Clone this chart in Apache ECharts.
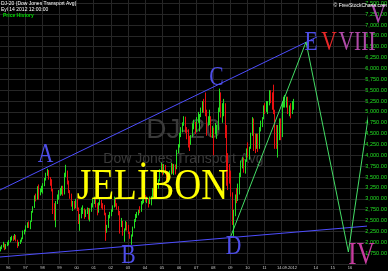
<!DOCTYPE html>
<html><head><meta charset="utf-8">
<script src="https://cdn.jsdelivr.net/npm/echarts@6/dist/echarts.min.js"></script>
<style>html,body{margin:0;padding:0;background:#000}#c{width:388px;height:271px}</style>
</head><body><div id="c"></div>
<script>
// ---- data (monthly, Jul 1995 .. Sep 2012) ----
const startYear = 1995, startMonth = 7;
const firstOpen = 1850;
const closes = [
1870,1900,1960,1850,1930,1980,
2010,2080,2110,2070,2150,2050,1930,1980,2040,2080,2250,2255,
2360,2420,2390,2480,2700,2800,3050,2990,3250,3120,3200,3256,
3300,3450,3560,3630,3470,3380,3200,2750,2630,2900,3050,3149,
3180,3210,3120,3560,3640,3380,3150,3080,2850,2890,2800,2977,
2780,2500,2600,2700,2760,2600,2680,2760,2600,2730,2860,2946,
2990,2870,2720,2890,2960,2850,2840,2650,2260,2350,2600,2640,
2720,2820,2980,2850,2790,2700,2450,2480,2180,2290,2450,2310,
2200,2120,2140,2330,2500,2580,2650,2720,2710,2920,2940,3007,
2960,2990,2900,2970,3020,3220,3180,3110,3310,3420,3640,3798,
3600,3700,3610,3380,3550,3560,3800,3620,3770,3680,4100,4196,
4500,4600,4720,4860,4620,4570,4420,4280,4430,4720,4750,4560,
4830,4840,4900,5000,5200,5060,4980,4760,4800,4890,4520,4570,
4560,4570,4620,5060,5440,4900,5050,5100,4700,3950,3700,3537,
3100,2450,2660,3000,2970,3200,3580,3800,3880,3650,3850,4100,
4000,4150,4480,4810,4450,4200,4450,4150,4620,4760,4830,5107,
5080,5150,5210,5450,5380,5340,5000,4600,4200,4600,4750,4450,
5200,5250,5270,5300,5050,5050,5000,5150,5216
];
const lows = [
1790,1840,1880,1820,1840,1910,
1930,2000,2040,2030,2060,2020,1870,1910,1960,2010,2070,2180,
2240,2330,2330,2300,2470,2680,2790,2940,2980,2980,3080,3150,
3120,3290,3420,3530,3440,3300,3170,2650,2500,2345,2880,2980,
3070,3100,3070,3100,3500,3330,3130,3000,2820,2720,2760,2780,
2720,2420,2264,2550,2650,2540,2580,2650,2520,2480,2700,2800,
2880,2800,2620,2680,2850,2780,2750,2620,2033,2220,2330,2550,
2600,2700,2800,2820,2750,2620,2200,2350,2150,2013,2270,2270,
2190,2080,1942,2130,2320,2470,2560,2620,2670,2700,2870,2900,
2930,2900,2800,2880,2850,3010,3050,3000,3100,3230,3400,3600,
3540,3560,3560,3350,3380,3480,3560,3580,3550,3560,3680,4050,
4180,4420,4530,4680,4520,4370,4180,4100,4240,4420,4600,4490,
4540,4750,4550,4880,4980,4980,4900,4450,4680,4700,4420,4400,
4000,4480,4380,4580,5000,4870,4750,4900,4400,3300,3200,3350,
3050,2400,2134,2600,2900,2950,3100,3500,3700,3600,3580,3850,
3950,3900,4150,4450,4100,4050,4150,4080,4150,4550,4650,4850,
4950,5000,4950,5150,5200,5050,4950,4150,4150,3950,4350,4350,
4420,5100,5100,5100,4950,4900,4850,4950,5050
];
const highs = [
1900,1940,2010,1970,1960,2010,
2050,2120,2150,2150,2190,2170,2060,2010,2060,2110,2270,2290,
2390,2460,2480,2500,2720,2830,3080,3120,3290,3330,3240,3300,
3360,3480,3600,3690,3660,3500,3450,3230,2900,2950,3100,3200,
3250,3300,3300,3600,3783,3650,3420,3200,3120,2950,2950,3000,
3000,2800,2650,2800,2850,2780,2750,2800,2790,2780,2900,3000,
3050,3010,2900,2920,3000,2980,2900,2860,2680,2400,2630,2700,
2760,2850,3050,3000,2900,2830,2720,2560,2490,2320,2490,2470,
2400,2240,2180,2360,2530,2650,2700,2750,2830,2950,2990,3030,
3090,3050,3010,3050,3060,3250,3250,3200,3340,3450,3680,3830,
3800,3800,3780,3640,3600,3650,3830,3810,3800,3790,4130,4260,
4520,4650,4760,4900,4890,4650,4600,4450,4470,4740,4820,4770,
4880,5000,4950,5100,5250,5300,5446,5050,4900,5050,4900,4680,
4640,4750,4700,5100,5536,5450,5200,5300,5200,4700,4050,3800,
3650,3150,2750,3100,3250,3350,3600,3880,3960,3950,3900,4160,
4300,4200,4520,4880,4850,4500,4500,4500,4650,4800,4880,5150,
5200,5250,5250,5500,5500,5450,5627,5050,4700,4700,4850,4850,
5250,5350,5390,5350,5350,5150,5200,5250,5300
];
const lastPrice = 5215.97;
const dateLabel = '14.09.2012';
const hiddenYears = [2012, 2013];
// trend / wave lines [year, value]
const upperTrend = [[1995.51, 3203], [2014.07, 6724]];
const lowerTrend = [[1995.51, 1661], [2017.0, 2372]];
const waveLine = [[2009.01, 2121], [2013.43, 6609], [2015.91, 1776], [2018.16, 7805]];
const waveLabelTexts = ['A','B','C','D','E','V','VIII','IV','V'];
</script>
<script>
const candles = closes.map((c, i) => {
  const o = i === 0 ? firstOpen : closes[i - 1];
  const t = startYear + (startMonth - 1 + i + 0.5) / 12;
  return [t, o, c, Math.min(lows[i], o, c), Math.max(highs[i], o, c)];
});
const fmt = v => v.toLocaleString('en-US', {minimumFractionDigits: 2, maximumFractionDigits: 2});
const chart = echarts.init(document.getElementById('c'));
chart.setOption({
  backgroundColor: '#000',
  animation: false,
  grid: {left: -8.78, right: 21, top: -7.6, bottom: 7, containLabel: false, outerBoundsMode: 'none'},
  xAxis: {
    type: 'value', min: 1995, max: 2017, interval: 1,
    axisLine: {show: false}, axisTick: {show: false},
    axisLabel: {color: '#cfcfcf', fontSize: 4, margin: 2, fontFamily: 'Liberation Sans',
      formatter: v => (v <= 1995 || v >= 2017 || hiddenYears.includes(v)) ? '' : String(v % 100).padStart(2, '0')},
    splitLine: {show: true, showMaxLine: false, lineStyle: {color: '#262626', width: 1}}
  },
  yAxis: {
    type: 'value', position: 'right', min: 1500, max: 7750, interval: 250,
    axisLine: {show: false}, axisTick: {show: false},
    axisLabel: {color: '#22dd22', fontSize: 5.6, fontFamily: 'Liberation Sans', align: 'right', margin: 20,
      formatter: v => v <= 1500 ? '' : fmt(v)},
    splitLine: {show: true, lineStyle: {color: '#262626', width: 1}}
  },
  series: [
    {type: 'candlestick', data: candles, barWidth: 1, z: 2, silent: true,
     itemStyle: {color: '#22dd22', color0: '#e81010', borderColor: '#22dd22', borderColor0: '#e81010', borderWidth: 1},
     markLine: {silent: true, symbol: 'none', animation: false,
       lineStyle: {opacity: 0},
       label: {position: 'end', distance: 0, formatter: fmt(lastPrice), color: '#fff', fontSize: 5.6,
         fontFamily: 'Liberation Sans', backgroundColor: '#000', borderColor: '#ddd', borderWidth: 1, padding: [1, 1, 0, 2]},
       data: [{yAxis: lastPrice}]}},
    {type: 'line', data: upperTrend, symbol: 'none', clip: false, z: 3, silent: true, lineStyle: {color: '#4d4dff', width: 1}},
    {type: 'line', data: lowerTrend, symbol: 'none', clip: false, z: 3, silent: true, lineStyle: {color: '#4d4dff', width: 1}},
    {type: 'line', data: waveLine, symbol: 'none', clip: false, z: 3, silent: true, lineStyle: {color: '#44dd66', width: 1}}
  ]
});
// annotation texts anchored at data coordinates
const serif = s => s + 'px "Liberation Serif"';
const anchors = [
  {at: [1998.18, 4008], size: 27, sx: 0.8, color: '#4e4ee8'},
  {at: [2003.03, 1695], size: 27, sx: 0.8, color: '#4e4ee8'},
  {at: [2008.19, 5792], size: 27, sx: 0.8, color: '#4e4ee8'},
  {at: [2009.19, 1902], size: 27, sx: 0.8, color: '#4e4ee8'},
  {at: [2013.72, 6597], size: 27, sx: 0.8, color: '#4e4ee8'},
  {at: [2014.78, 6597], size: 27, sx: 0.8, color: '#e82828'},
  {at: [2016.42, 6597], size: 27, sx: 0.8, color: '#b04aa8'},
  {at: [2016.68, 1684], size: 32, sx: 0.78, color: '#c83ca0'},
  {at: [2017.65, 7207], size: 28, sx: 0.8, color: '#a848a8'}
];
const g = [];
anchors.forEach((a, i) => {
  const p = chart.convertToPixel({gridIndex: 0}, a.at);
  g.push({type: 'text', x: p[0], y: p[1], scaleX: a.sx, z: 50, silent: true,
    style: {text: waveLabelTexts[i], font: serif(a.size), fill: a.color, align: 'center', verticalAlign: 'middle'}});
});
const jp = chart.convertToPixel({gridIndex: 0}, [2004.44, 3272]);
g.push({type: 'text', x: jp[0], y: jp[1], scaleX: 0.83, z: 50, silent: true,
  style: {text: 'JELİBON', font: serif(45), fill: '#ffff00', align: 'center', verticalAlign: 'middle'}});
// watermark
g.push({type: 'text', x: 183.5, y: 130, z: 1, silent: true,
  style: {text: 'DJ-20', font: '28px "Liberation Sans"', fill: '#3a3a3a', align: 'center', verticalAlign: 'middle'}});
g.push({type: 'text', x: 183.5, y: 159, z: 1, silent: true,
  style: {text: 'Dow Jones Transport Avg', font: '14px "Liberation Sans"', fill: '#3a3a3a', align: 'center', verticalAlign: 'middle'}});
// header
g.push({type: 'text', x: 1, y: 4, z: 60, silent: true,
  style: {text: 'DJ-20 (Dow Jones Transport Avg)', font: '5px "Liberation Sans"', fill: '#fff', align: 'left', verticalAlign: 'middle'}});
g.push({type: 'text', x: 1, y: 9.5, z: 60, silent: true,
  style: {text: 'Eyl 14 2012 12:00:00', font: '5px "Liberation Sans"', fill: '#fff', align: 'left', verticalAlign: 'middle'}});
g.push({type: 'text', x: 3, y: 16, z: 60, silent: true,
  style: {text: 'Price History', font: 'bold 5px "Liberation Sans"', fill: '#00dd00', align: 'left', verticalAlign: 'middle'}});
g.push({type: 'text', x: 387, y: 6, z: 60, silent: true,
  style: {text: '© FreeStockCharts.com', font: '5px "Liberation Sans"', fill: '#fff', align: 'right', verticalAlign: 'middle'}});
g.push({type: 'text', x: 287, y: 268, z: 60, silent: true,
  style: {text: dateLabel, font: '4px "Liberation Sans"', fill: '#cfcfcf', align: 'center', verticalAlign: 'middle'}});
chart.setOption({graphic: g});
</script>
</body></html>
